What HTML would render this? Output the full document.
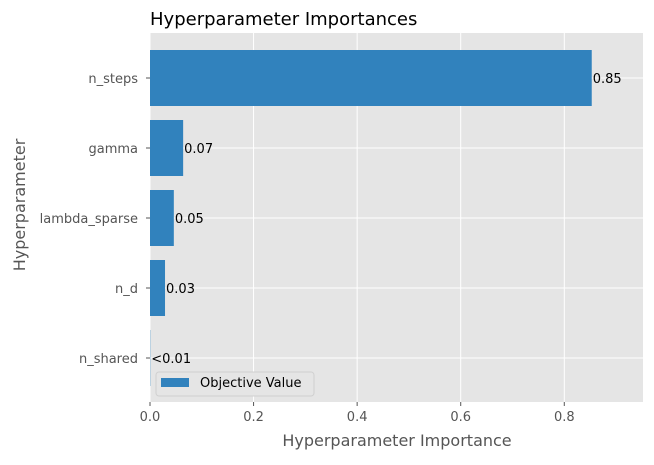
<!DOCTYPE html>
<html><head><meta charset="utf-8"><style>
body{margin:0;background:#fff;font-family:"Liberation Sans","DejaVu Sans",sans-serif}
</style></head><body>
<svg width="654" height="460" xmlns="http://www.w3.org/2000/svg" font-family="DejaVu Sans, Liberation Sans, sans-serif">
<g id="root"></g>
</svg>
<script>
const categories=["n_steps","gamma","lambda_sparse","n_d","n_shared"];
const values=[0.853,0.064,0.046,0.029,0.0005];
const labels=["0.85","0.07","0.05","0.03","<0.01"];
const xTicks=[0,0.2,0.4,0.6,0.8];
const xTickLabels=["0.0","0.2","0.4","0.6","0.8"];
const L=150,R=643,T=33,B=402,xmax=0.952;
const sx=v=>L+v/xmax*(R-L);
const sy=i=>78+i*70;
const NS="http://www.w3.org/2000/svg";
const root=document.getElementById('root');
function mk(tag,attrs,parent){const e=document.createElementNS(NS,tag);for(const k in attrs)e.setAttribute(k,attrs[k]);(parent||root).appendChild(e);return e;}
let bg=mk('rect',{x:L,y:T,width:R-L,height:B-T,fill:'#e5e5e5'});


xTicks.forEach((t,i)=>{
 let g=mk('line',{x1:sx(t),x2:sx(t),y1:T,y2:B,stroke:'#fff','stroke-width':1});
 
 
 let tk=mk('line',{x1:sx(t),x2:sx(t),y1:B,y2:B+4,stroke:'#555'});
 
 
 let tx=mk('text',{x:sx(t),y:B+19,'text-anchor':'middle','font-size':13,fill:'#555'});
 tx.textContent=xTickLabels[i];
 
 
});
categories.forEach((c,i)=>{
 let y=sy(i);
 let gl=mk('line',{x1:L,x2:R,y1:y,y2:y,stroke:'#fff','stroke-width':1});
 
 
});
categories.forEach((c,i)=>{
 let y=sy(i);
 let b=mk('rect',{x:L,y:y-28,width:sx(values[i])-L,height:56,fill:'#3182bd'});
 
 
 let v=mk('text',{x:sx(values[i])+1,y:y+5,'font-size':13,fill:'#000'});
 v.textContent=labels[i];
 
 
 let tk=mk('line',{x1:L-4,x2:L,y1:y,y2:y,stroke:'#555'});
 
 
 let t=mk('text',{x:L-12,y:y+5,'text-anchor':'end','font-size':13,fill:'#555'});
 t.textContent=c;
 
 
});
let lg=mk('g',{});


mk('rect',{x:156,y:372,width:158,height:24,rx:3,fill:'#e5e5e5',stroke:'#d0d0d0'},lg);
mk('rect',{x:161,y:378,width:28,height:9,fill:'#3182bd'},lg);
let lt=mk('text',{x:200,y:387,'font-size':13,fill:'#000'},lg);
lt.textContent='Objective Value';
let title=mk('text',{x:L,y:25,'font-size':18,fill:'#000'});
title.textContent='Hyperparameter Importances';


let xl=mk('text',{x:397,y:446,'text-anchor':'middle','font-size':16,fill:'#555'});
xl.textContent='Hyperparameter Importance';


let yl=mk('text',{x:0,y:0,'text-anchor':'middle','font-size':16,fill:'#555',transform:'translate(25,205) rotate(-90)'});
yl.textContent='Hyperparameter';


</script>
</body></html>
